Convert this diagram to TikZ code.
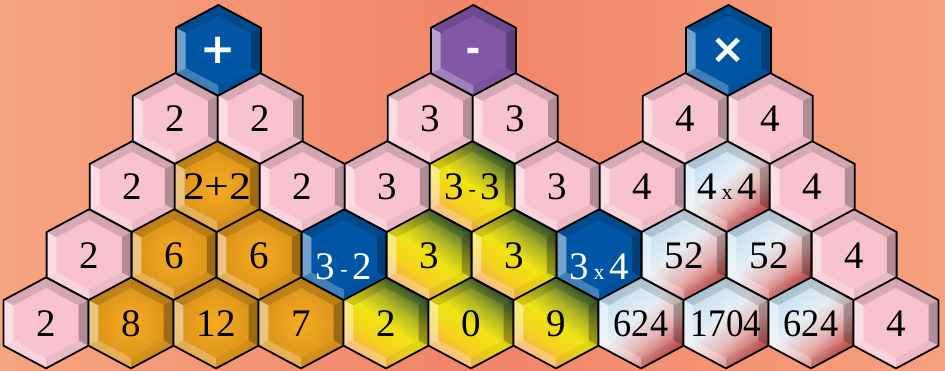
\documentclass[tikz,border=0pt]{standalone}
\usepackage{fontspec}
\usepackage{graphicx}
\setmainfont{Liberation Serif}
\newfontfamily\opfont{DejaVu Sans}
\definecolor{pinkface}{HTML}{F8C3CF}
\definecolor{blueface}{HTML}{0056A4}
\definecolor{purpface}{HTML}{8157A6}
\definecolor{orIn}{HTML}{F7AA22}
\definecolor{orOut}{HTML}{D8921A}
\definecolor{ygB}{HTML}{F6A060}
\definecolor{ygYa}{HTML}{F5D21E}
\definecolor{ygY}{HTML}{F0E414}
\definecolor{ygYG}{HTML}{B4B824}
\definecolor{ygG}{HTML}{2F5A34}
\definecolor{lbR}{HTML}{C44848}
\definecolor{lbP}{HTML}{E8B4B4}
\definecolor{lbW}{HTML}{E6EEF4}
\definecolor{lbB}{HTML}{C0DEF3}
\definecolor{bgL}{HTML}{F9B58C}
\definecolor{bgM}{HTML}{F1846A}
\definecolor{bgR}{HTML}{F9AE86}
\pgfdeclareverticalshading{ygshade}{100bp}{color(0bp)=(ygB); color(25bp)=(ygB); color(38bp)=(ygYa); color(50bp)=(ygY); color(60bp)=(ygYG); color(75bp)=(ygG); color(100bp)=(ygG)}
\pgfdeclareverticalshading{lbshade}{100bp}{color(0bp)=(lbR); color(25bp)=(lbR); color(40bp)=(lbP); color(54bp)=(lbW); color(75bp)=(lbB); color(100bp)=(lbB)}
\tikzset{
  hexline/.style={draw=black, line width=1.8pt, line join=round},
  pinkhex/.style={fill=pinkface},
  bluehex/.style={fill=blueface},
  purphex/.style={fill=purpface},
  orhex/.style={shade, inner color=orIn, outer color=orOut},
  yghex/.style={shade, shading=ygshade, shading angle=-35},
  lbhex/.style={shade, shading=lbshade, shading angle=40},
  facL/.style={fill=white, fill opacity=0.45},
  facBL/.style={fill=white, fill opacity=0.25},
  facBR/.style={fill=black, fill opacity=0.05},
  facR/.style={fill=black, fill opacity=0.28},
  facTR/.style={fill=black, fill opacity=0.15},
  facTL/.style={fill=black, fill opacity=0.13},
  numtxt/.style={font=\fontsize{39}{39}\selectfont, inner sep=0pt, anchor=base, yshift=-13.2pt, text=black},
  whitetxt/.style={numtxt, text=white, yshift=-11pt},
  optxt/.style={font=\opfont\bfseries\fontsize{42}{42}\selectfont, text=white, inner sep=0pt, anchor=center},
  dashtxt/.style={optxt, anchor=base, yshift=-12pt},
}
\newcommand\smallop[1]{\kern4.5pt{\fontsize{22}{22}\selectfont #1}\kern4.5pt}
\newcommand\smallhy{\kern5pt\raisebox{3pt}{\fontsize{22}{22}\selectfont -}\kern5pt}
\newcommand\hexcell[6]{%
  \pgfmathsetmacro\hcx{46+42.5*(4-#1)+85*#2+0.6*(4-#1)}%
  \pgfmathsetmacro\hcy{370-(50.5+68.1*#1)}%
  \begin{scope}[shift={(\hcx,\hcy)}]
    \path[#4] (0,45.5) -- (42.5,22.75) -- (42.5,-22.75) -- (0,-45.5) -- (-42.5,-22.75) -- (-42.5,22.75) -- cycle;
    \fill[facTL] (0,45.5) -- (-42.5,22.75) -- (-32.7,17.5) -- (0,35) -- cycle;
    \fill[facTR] (0,45.5) -- (42.5,22.75) -- (32.7,17.5) -- (0,35) -- cycle;
    \fill[facR] (42.5,22.75) -- (42.5,-22.75) -- (32.7,-17.5) -- (32.7,17.5) -- cycle;
    \fill[facBR] (42.5,-22.75) -- (0,-45.5) -- (0,-35) -- (32.7,-17.5) -- cycle;
    \fill[facBL] (0,-45.5) -- (-42.5,-22.75) -- (-32.7,-17.5) -- (0,-35) -- cycle;
    \fill[facL] (-42.5,-22.75) -- (-42.5,22.75) -- (-32.7,17.5) -- (-32.7,-17.5) -- cycle;
    \draw[hexline] (0,45.5) -- (42.5,22.75) -- (42.5,-22.75) -- (0,-45.5) -- (-42.5,-22.75) -- (-42.5,22.75) -- cycle;
    \node[#5] (#3) at (0,0) {#6};
  \end{scope}}
\begin{document}
\begin{tikzpicture}[x=1pt, y=1pt]
  \useasboundingbox (0,0) rectangle (945,370);
  \fill[bgL] (0,0) rectangle (945,370);
  \begin{scope}
    \clip (0,0) rectangle (945,370);
    \shade[left color=bgL, right color=bgR, middle color=bgM, rotate around={-25:(472,185)}] (-48,-335) rectangle (992,705);
  \end{scope}
  % row 0
  \hexcell{0}{0}{opplus}{bluehex}{optxt}{+}
  \hexcell{0}{3}{opminus}{purphex}{dashtxt}{\scalebox{0.66}[1]{–}}
  \hexcell{0}{6}{optimes}{bluehex}{optxt}{×}
  % row 1
  \hexcell{1}{0}{ra0}{pinkhex}{numtxt}{2}
  \hexcell{1}{1}{ra1}{pinkhex}{numtxt}{2}
  \hexcell{1}{3}{ra3}{pinkhex}{numtxt}{3}
  \hexcell{1}{4}{ra4}{pinkhex}{numtxt}{3}
  \hexcell{1}{6}{ra6}{pinkhex}{numtxt}{4}
  \hexcell{1}{7}{ra7}{pinkhex}{numtxt}{4}
  % row 2
  \hexcell{2}{0}{rb0}{pinkhex}{numtxt}{2}
  \hexcell{2}{1}{rb1}{orhex}{numtxt}{\scalebox{1.12}[1]{2+2}}
  \hexcell{2}{2}{rb2}{pinkhex}{numtxt}{2}
  \hexcell{2}{3}{rb3}{pinkhex}{numtxt}{3}
  \hexcell{2}{4}{rb4}{yghex}{numtxt}{3\smallhy 3}
  \hexcell{2}{5}{rb5}{pinkhex}{numtxt}{3}
  \hexcell{2}{6}{rb6}{pinkhex}{numtxt}{4}
  \hexcell{2}{7}{rb7}{lbhex}{numtxt}{4\smallop{x}4}
  \hexcell{2}{8}{rb8}{pinkhex}{numtxt}{4}
  % row 3
  \hexcell{3}{0}{rc0}{pinkhex}{numtxt}{2}
  \hexcell{3}{1}{rc1}{orhex}{numtxt}{6}
  \hexcell{3}{2}{rc2}{orhex}{numtxt}{6}
  \hexcell{3}{3}{rc3}{bluehex}{whitetxt}{3\smallhy 2}
  \hexcell{3}{4}{rc4}{yghex}{numtxt}{3}
  \hexcell{3}{5}{rc5}{yghex}{numtxt}{3}
  \hexcell{3}{6}{rc6}{bluehex}{whitetxt}{3\smallop{x}4}
  \hexcell{3}{7}{rc7}{lbhex}{numtxt}{52}
  \hexcell{3}{8}{rc8}{lbhex}{numtxt}{52}
  \hexcell{3}{9}{rc9}{pinkhex}{numtxt}{4}
  % row 4
  \hexcell{4}{0}{rd0}{pinkhex}{numtxt}{2}
  \hexcell{4}{1}{rd1}{orhex}{numtxt}{8}
  \hexcell{4}{2}{rd2}{orhex}{numtxt}{12}
  \hexcell{4}{3}{rd3}{orhex}{numtxt}{7}
  \hexcell{4}{4}{rd4}{yghex}{numtxt}{2}
  \hexcell{4}{5}{rd5}{yghex}{numtxt}{0}
  \hexcell{4}{6}{rd6}{yghex}{numtxt}{9}
  \hexcell{4}{7}{rd7}{lbhex}{numtxt}{\scalebox{0.93}[1]{624}}
  \hexcell{4}{8}{rd8}{lbhex}{numtxt}{\scalebox{0.9}[1]{1704}}
  \hexcell{4}{9}{rd9}{lbhex}{numtxt}{\scalebox{0.93}[1]{624}}
  \hexcell{4}{10}{rd10}{pinkhex}{numtxt}{4}
\end{tikzpicture}
\end{document}
